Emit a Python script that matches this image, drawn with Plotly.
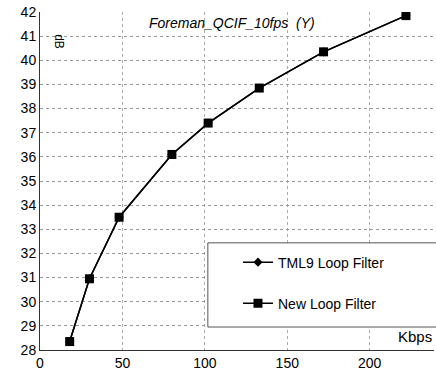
import plotly.graph_objects as go

kbps = [18, 30, 48, 80, 102, 133, 172, 222]
tml9_db = [28.35, 30.95, 33.5, 36.1, 37.4, 38.85, 40.35, 41.85]
new_db = [28.35, 30.95, 33.5, 36.1, 37.4, 38.85, 40.35, 41.85]
y_ticks = list(range(28, 43))
x_ticks = [0, 50, 100, 150, 200]

fig = go.Figure()
fig.add_trace(go.Scatter(x=kbps, y=tml9_db, mode="lines+markers", name="TML9 Loop Filter",
                         legendgroup="a",
                         line=dict(color="black", width=1.5),
                         marker=dict(symbol="diamond", size=7, color="black")))
fig.add_trace(go.Scatter(x=kbps, y=new_db, mode="lines+markers", name="New Loop Filter",
                         legendgroup="b",
                         line=dict(color="black", width=1.5),
                         marker=dict(symbol="square", size=9, color="black")))

fig.update_layout(
    width=436, height=379,
    margin=dict(l=40, r=2, t=12, b=29),
    paper_bgcolor="white", plot_bgcolor="white",
    font=dict(family="Liberation Sans, Arial, sans-serif", size=14, color="black"),
    legend=dict(x=0.5025, y=0.306, xanchor="left", yanchor="top",
                bgcolor="rgba(0,0,0,0)", borderwidth=0,
                font=dict(size=14), tracegroupgap=20),
    xaxis=dict(range=[0, 239], tickvals=x_ticks, showline=True, linecolor="#333", linewidth=1,
               showgrid=True, gridcolor="#aaa", griddash="dot", gridwidth=1,
               ticks="", zeroline=False),
    yaxis=dict(range=[28, 42], tickvals=y_ticks, showline=True, linecolor="#333", linewidth=1,
               showgrid=True, gridcolor="#999", griddash="dot", gridwidth=1,
               ticks="", zeroline=False),
    shapes=[dict(type="rect", xref="paper", yref="paper", x0=0.426, x1=1.02, y0=0.068, y1=0.317,
                 line=dict(color="#555", width=1), fillcolor="white", layer="above")],
    annotations=[
        dict(text="<i>Foreman_QCIF_10fps  (Y)</i>", x=0.487, y=0.998, xref="paper", yref="paper",
             xanchor="center", yanchor="top", showarrow=False, font=dict(size=14)),
        dict(text="dB", x=0.027, y=0.94, xref="paper", yref="paper", textangle=90,
             showarrow=False, font=dict(size=12)),
        dict(text="Kbps", x=1.0, y=0.01, xref="paper", yref="paper", xanchor="right",
             yanchor="bottom", showarrow=False, font=dict(size=15)),
    ],
)
fig.write_html("out.html")
